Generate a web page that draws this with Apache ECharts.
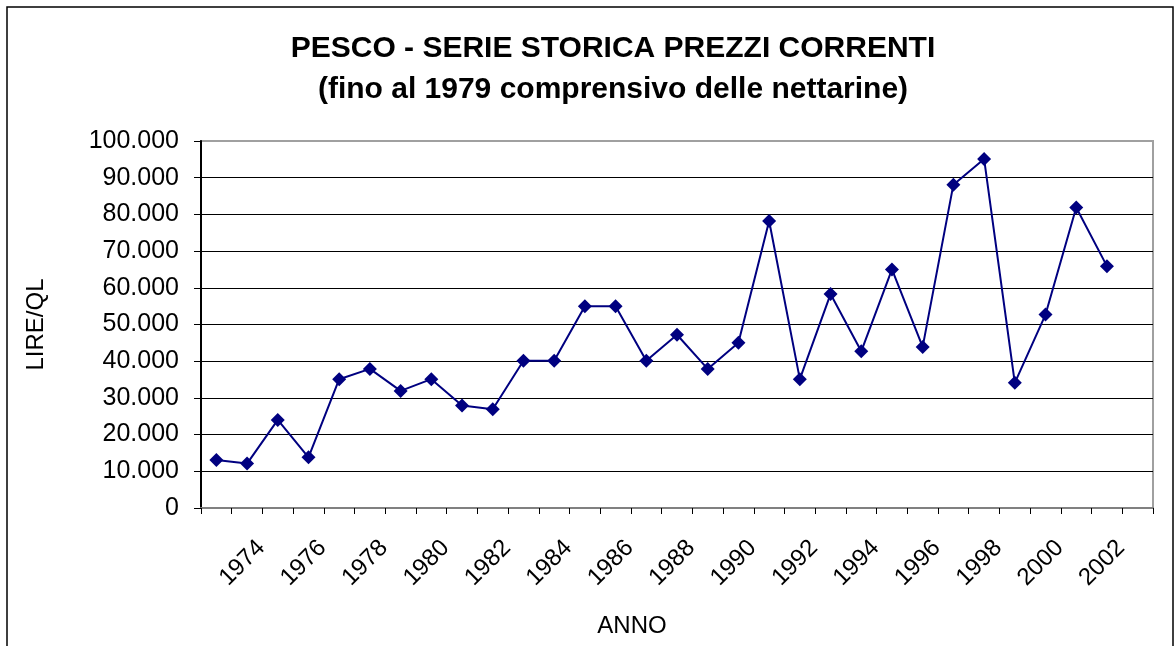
<!DOCTYPE html>
<html>
<head>
<meta charset="utf-8">
<script src="https://cdn.jsdelivr.net/npm/echarts@6/dist/echarts.min.js"></script>
<style>
  html, body { margin: 0; padding: 0; background: #fff; }
  #chart { width: 1176px; height: 646px; }
</style>
</head>
<body>
<div id="chart"></div>
<script>
// Anni della serie (l'ultimo slot resta vuoto)
const anni = ['1973','1974','1975','1976','1977','1978','1979','1980','1981','1982',
              '1983','1984','1985','1986','1987','1988','1989','1990','1991','1992',
              '1993','1994','1995','1996','1997','1998','1999','2000','2001','2002','2003'];

// Prezzi correnti in lire al quintale
const prezzi = [13100, 12100, 24000, 13800, 35100, 37900, 31900, 35100, 27900, 26900,
                40100, 40100, 55000, 55000, 40100, 47200, 37900, 45000, 78200, 35100,
                58300, 42700, 65000, 43900, 88100, 95100, 34100, 52700, 81900, 65900, null];

// Scala dell'asse dei valori
const yMin = 0, yMax = 100000, yPasso = 10000;

const titolo = 'PESCO - SERIE STORICA PREZZI CORRENTI\n(fino al 1979 comprensivo delle nettarine)';
const FONT = '"Liberation Sans", Arial, sans-serif';

function migliaia(v) {
  return String(v).replace(/\B(?=(\d{3})+(?!\d))/g, '.');
}

const chart = echarts.init(document.getElementById('chart'), null, { renderer: 'canvas' });

// griglia: nere, quella superiore coincide con il bordo grigio
const coloriGriglia = [];
for (let v = yMin; v <= yMax; v += yPasso) coloriGriglia.push(v === yMax ? '#a0a0a0' : '#000');

chart.setOption({
  backgroundColor: '#fff',
  animation: false,
  textStyle: { fontFamily: FONT },
  title: {
    text: titolo,
    left: 608,
    textAlign: 'center',
    top: 23,
    textStyle: { fontFamily: FONT, fontSize: 30, fontWeight: 'bold', lineHeight: 41, color: '#000' }
  },
  graphic: [{
    type: 'rect',
    shape: { x: 7, y: 7, width: 1166, height: 700 },
    style: { fill: 'none', stroke: '#000', lineWidth: 1.5 },
    silent: true
  }],
  grid: {
    left: 201, right: 23, top: 141, bottom: 138,
    show: true, borderColor: '#a0a0a0', borderWidth: 2, backgroundColor: '#fff'
  },
  xAxis: {
    type: 'category',
    data: anni,
    boundaryGap: true,
    name: 'ANNO',
    nameLocation: 'middle',
    nameGap: 106,
    nameTextStyle: { fontFamily: FONT, fontSize: 24, color: '#000', padding: [0, 90, 0, 0] },
    axisLine: { show: true, lineStyle: { color: '#808080', width: 2 } },
    axisTick: { show: true, interval: 0, length: 6, lineStyle: { color: '#000', width: 1 } },
    axisLabel: {
      interval: function (i) { return i % 2 === 1; },
      rotate: 45,
      align: 'right',
      verticalAlign: 'top',
      lineHeight: 40,
      margin: 22,
      fontFamily: FONT,
      fontSize: 24,
      color: '#000'
    },
    splitLine: { show: false }
  },
  yAxis: {
    type: 'value',
    min: yMin, max: yMax, interval: yPasso,
    name: 'LIRE/QL',
    nameLocation: 'middle',
    nameGap: 153,
    nameTextStyle: { fontFamily: FONT, fontSize: 24, color: '#000' },
    axisLine: { show: true, lineStyle: { color: '#000', width: 2 } },
    axisTick: { show: true, length: 7, lineStyle: { color: '#000', width: 1 } },
    axisLabel: {
      margin: 22,
      fontFamily: FONT,
      fontSize: 25,
      color: '#000',
      formatter: migliaia
    },
    splitLine: { show: true, lineStyle: { color: coloriGriglia, width: 1 } }
  },
  series: [{
    type: 'line',
    data: prezzi,
    connectNulls: false,
    symbol: 'diamond',
    symbolSize: 14,
    lineStyle: { color: '#000080', width: 2 },
    itemStyle: { color: '#000080' },
    z: 5
  }]
});
</script>
</body>
</html>
